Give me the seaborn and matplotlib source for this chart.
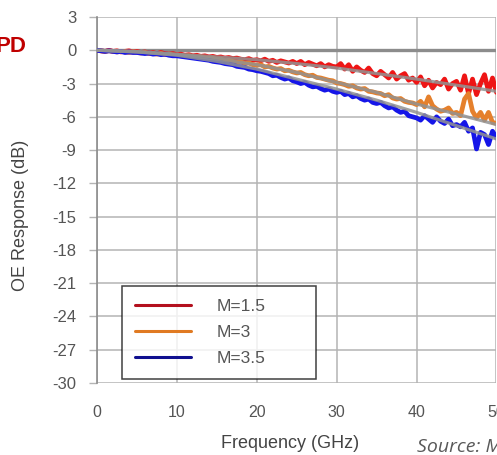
import numpy as np
import pandas as pd
import matplotlib
matplotlib.use("Agg")
import matplotlib.pyplot as plt
import seaborn as sns

# ---------------- data ----------------
freq = np.arange(0, 50.5, 0.5)  # GHz grid

m15 = [0, -0.05, -0.1, 0.0, -0.1, -0.05, -0.15, -0.1, -0.05, -0.15,
       -0.1, -0.2, -0.15, -0.25, -0.2, -0.3, -0.2, -0.3, -0.35, -0.3,
       -0.4, -0.35, -0.45, -0.4, -0.5, -0.45, -0.55, -0.5, -0.6, -0.55,
       -0.65, -0.6, -0.7, -0.65, -0.75, -0.7, -0.8, -0.85, -0.75, -0.9,
       -0.85, -0.95, -0.8, -1.0, -0.9, -1.1, -0.95, -1.05, -1.15, -1.0,
       -1.2, -1.0, -1.3, -1.1, -1.25, -1.4, -1.2, -1.5, -1.3, -1.45,
       -1.5, -1.2, -1.7, -1.3, -1.9, -1.5, -1.8, -2.0, -1.6, -2.1,
       -2.3, -1.9, -2.2, -2.5, -2.0, -2.6, -2.3, -2.1, -2.7, -2.5,
       -2.9, -2.4, -3.2, -2.7, -3.4, -2.9, -3.1, -2.6, -3.5, -3.0,
       -2.8, -3.6, -2.3, -3.9, -2.6, -4.0, -3.0, -2.2, -3.7, -2.5,
       -3.8]

m3 = [0, -0.05, -0.1, -0.05, -0.1, -0.15, -0.1, -0.15, -0.2, -0.15,
      -0.2, -0.25, -0.2, -0.3, -0.3, -0.35, -0.3, -0.4, -0.35, -0.45,
      -0.45, -0.5, -0.55, -0.5, -0.6, -0.65, -0.6, -0.7, -0.75, -0.7,
      -0.85, -0.8, -0.95, -0.9, -1.0, -1.1, -1.05, -1.2, -1.15, -1.3,
      -1.35, -1.3, -1.5, -1.45, -1.6, -1.7, -1.65, -1.85, -1.8, -1.95,
      -2.05, -2.0, -2.2, -2.3, -2.25, -2.45, -2.5, -2.6, -2.7, -2.75,
      -2.95, -3.0, -3.1, -3.25, -3.2, -3.4, -3.5, -3.45, -3.7, -3.75,
      -3.85, -3.9, -4.1, -4.0, -4.3, -4.4, -4.35, -4.6, -4.7, -4.75,
      -4.9, -4.6, -5.1, -4.2, -5.0, -5.3, -5.5, -5.4, -5.2, -5.7,
      -5.6, -5.9, -4.4, -3.9, -5.5, -6.1, -5.6, -6.3, -5.6, -6.5,
      -6.6]

m35 = [0, -0.05, -0.1, -0.05, -0.1, -0.15, -0.1, -0.2, -0.15, -0.2,
       -0.2, -0.25, -0.3, -0.25, -0.35, -0.3, -0.4, -0.35, -0.45, -0.5,
       -0.5, -0.55, -0.6, -0.65, -0.7, -0.75, -0.8, -0.85, -0.9, -1.0,
       -1.05, -1.1, -1.2, -1.25, -1.3, -1.45, -1.5, -1.55, -1.7, -1.75,
       -1.85, -1.9, -2.0, -2.1, -2.3, -2.25, -2.45, -2.6, -2.5, -2.75,
       -2.85, -3.0, -2.9, -3.15, -3.3, -3.25, -3.45, -3.6, -3.5, -3.7,
       -3.8, -3.7, -4.0, -3.9, -4.2, -4.1, -4.35, -4.5, -4.4, -4.7,
       -4.8, -4.7, -5.0, -5.2, -5.1, -5.4, -5.6, -5.5, -5.9, -6.0,
       -6.1, -6.3, -5.9, -6.2, -6.5, -6.0, -6.4, -6.6, -6.2, -6.8,
       -6.7, -6.9, -6.5, -7.3, -7.0, -8.9, -7.4, -7.6, -8.5, -7.3,
       -7.9]

fit_freq = [0, 5, 10, 15, 20, 25, 30, 35, 40, 45, 50]
fit_m15 = [0, -0.1, -0.35, -0.6, -0.85, -1.2, -1.6, -2.1, -2.6, -3.15, -3.7]
fit_m3 = [0, -0.15, -0.4, -0.8, -1.3, -2.0, -2.9, -3.8, -4.85, -5.75, -6.7]
fit_m35 = [0, -0.15, -0.45, -1.0, -1.7, -2.6, -3.5, -4.5, -5.6, -6.8, -8.0]

labels = ["M=1.5", "M=3", "M=3.5"]
y_ticks = list(range(3, -31, -3))
x_ticks = [0, 10, 20, 30, 40, 50]

# ---------------- build frames ----------------
df = pd.DataFrame({
    "freq": np.concatenate([freq, freq, freq]),
    "resp": np.concatenate([m15, m3, m35]),
    "M": np.repeat(labels, len(freq)),
})
fit_df = pd.DataFrame({
    "freq": fit_freq * 3,
    "resp": fit_m15 + fit_m3 + fit_m35,
    "M": np.repeat(labels, len(fit_freq)),
})

# ---------------- style ----------------
sns.set_style("white")
plt.rcParams["font.family"] = ["Liberation Sans", "DejaVu Sans"]
plt.rcParams["axes.unicode_minus"] = False

W, H = 497, 455
fig = plt.figure(figsize=(W / 100, H / 100), dpi=100)
ax = fig.add_axes([97 / W, 1 - 383 / H, 399.5 / W, 366 / H])

grid_c = "#b4b4b4"
for yv in y_ticks:
    ax.axhline(yv, color=grid_c, lw=1.1, zorder=0)
for xv in x_ticks:
    ax.axvline(xv, color=grid_c, lw=1.1, zorder=0)
ax.axhline(0, color="#8c8c8c", lw=2.4, zorder=1)

curve_colors = ["#ee1515", "#e5802c", "#1515e8"]
sns.lineplot(data=df, x="freq", y="resp", hue="M", palette=curve_colors,
             lw=3.4, ax=ax, legend=False, zorder=3, estimator=None)
sns.lineplot(data=fit_df, x="freq", y="resp", hue="M",
             palette=["#929292"] * 3, lw=2.3, ax=ax, legend=False,
             zorder=4, estimator=None, alpha=0.85)

ax.set_xlim(0, 50)
ax.set_ylim(-30, 3)
ax.set_xticks(x_ticks)
ax.set_yticks(y_ticks)
ax.tick_params(axis="y", length=6, width=1, color=grid_c, pad=9,
               labelsize=12, labelcolor="#555555", left=True)
ax.tick_params(axis="x", length=0, pad=16, labelsize=11.5,
               labelcolor="#555555")
for s in ["top", "right", "bottom"]:
    ax.spines[s].set_visible(False)
ax.spines["left"].set_color("#8c8c8c")
ax.spines["left"].set_linewidth(1.2)

ax.set_xlabel("Frequency (GHz)", fontsize=13, color="#444444")
ax.set_ylabel("OE Response (dB)", fontsize=13, color="#444444")
ax.xaxis.set_label_coords((290 - 97) / 399.5, -(435 - 383) / 366)
ax.yaxis.set_label_coords(-(97 - 29) / 399.5, (383 - 215) / 366)

# legend
from matplotlib.lines import Line2D
leg_colors = ["#b3101e", "#e07a22", "#10108f"]
handles = [Line2D([], [], color=c, lw=2.2) for c in leg_colors]
leg = ax.legend(handles, labels,
                bbox_to_anchor=((122 - 97) / 399.5, (383 - 376) / 366,
                                194 / 399.5, (376 - 286) / 366),
                loc="upper left", mode="expand", borderaxespad=0,
                fontsize=12.5, handlelength=3.2, handletextpad=1.5,
                labelspacing=0.62, borderpad=0.75, fancybox=False,
                frameon=True, labelcolor="#555555")
leg.get_frame().set_edgecolor("#111111")
leg.get_frame().set_linewidth(1.1)
leg.set_zorder(10)

# cropped annotations
fig.text(26 / W, 1 - 46 / H, "PD", ha="right", va="center",
         fontsize=16, fontweight="bold", color="#c00000")
fig.text(417 / W, 1 - 447 / H, "Source: M", ha="left", va="center",
         fontsize=14, style="italic", color="#595959",
         family=["Open Sans", "DejaVu Sans"])

fig.savefig("out.png", dpi=100)
